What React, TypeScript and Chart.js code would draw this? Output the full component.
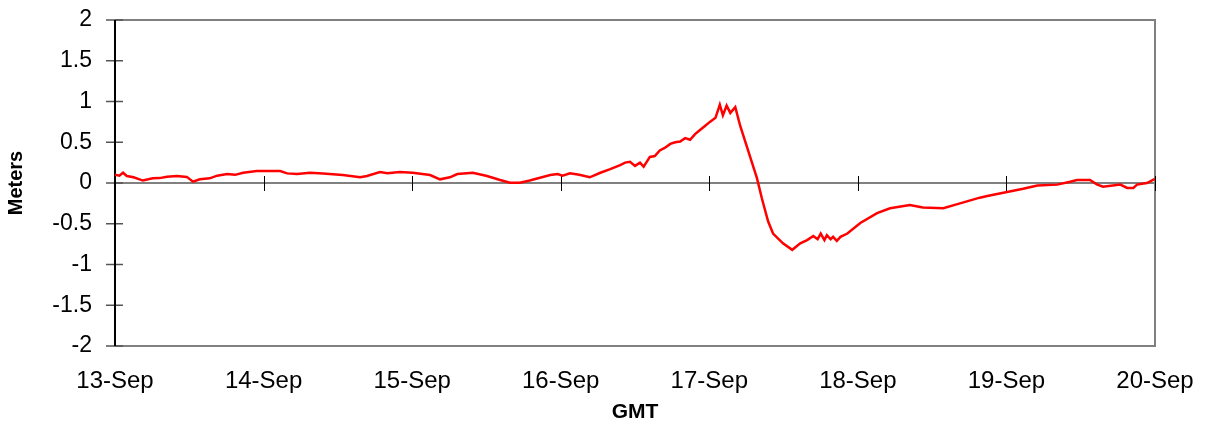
import React, { useEffect, useRef } from "react";
import { Chart, registerables } from "chart.js";

Chart.register(...registerables);

// Hours since 13-Sep 00:00 GMT
const hours = [
  0, 0.7, 1.3, 1.9, 3.0, 4.5, 6.1, 7.2, 8.4, 10.0, 11.6, 12.6, 13.7, 15.3, 16.5, 18.1, 19.4, 20.7,
  22.9, 26.7, 27.8, 29.4, 31.5, 33.6, 36.8, 39.6, 40.7, 42.8, 44.0, 46.0, 48.1, 50.9, 52.5, 54.1,
  55.3, 57.8, 60.1, 62.2, 63.8, 65.4, 67.0, 70.3, 71.5, 72.3, 73.5, 75.0, 76.7, 78.4, 80.0, 81.6,
  82.4, 83.2, 84.0, 84.8, 85.4, 86.4, 87.2, 88.0, 88.8, 89.7, 90.5, 91.3, 92.1, 92.9, 93.7, 94.5,
  95.3, 96.1, 97.0, 97.7, 98.2, 98.8, 99.4, 100.2, 101.0, 101.8, 102.6, 103.7, 104.5, 105.5,
  106.3, 107.9, 109.4, 110.7, 111.8, 112.8, 113.5, 114.0, 114.6, 115.0, 115.6, 116.0, 116.6,
  117.2, 118.3, 120.4, 123.1, 125.2, 128.4, 130.5, 133.8, 136.5, 139.7, 140.9, 144.1, 146.7,
  149.0, 152.2, 154.3, 155.4, 157.5, 158.6, 159.6, 162.4, 163.5, 164.5, 165.1, 166.7, 168,
];

// Water level anomaly (meters)
const level = [
  0.10, 0.09, 0.126, 0.086, 0.07, 0.03, 0.057, 0.06, 0.077, 0.086, 0.075, 0.016, 0.045, 0.057,
  0.09, 0.11, 0.10, 0.126, 0.147, 0.147, 0.118, 0.11, 0.126, 0.118, 0.098, 0.07, 0.086, 0.135,
  0.12, 0.135, 0.126, 0.098, 0.045, 0.07, 0.11, 0.126, 0.086, 0.037, 0.004, 0.004, 0.03, 0.098,
  0.11, 0.09, 0.119, 0.10, 0.07, 0.126, 0.17, 0.22, 0.25, 0.26, 0.21, 0.25, 0.2, 0.32, 0.33,
  0.40, 0.43, 0.48, 0.50, 0.51, 0.55, 0.53, 0.60, 0.65, 0.70, 0.75, 0.80, 0.96, 0.83, 0.95, 0.86,
  0.93, 0.70, 0.51, 0.32, 0.06, -0.19, -0.47, -0.62, -0.74, -0.82, -0.74, -0.70, -0.65, -0.69,
  -0.62, -0.70, -0.64, -0.69, -0.66, -0.71, -0.66, -0.62, -0.49, -0.37, -0.31, -0.27, -0.30,
  -0.31, -0.25, -0.18, -0.16, -0.11, -0.07, -0.03, -0.02, 0.016, 0.037, 0.037, -0.016, -0.045,
  -0.02, -0.06, -0.06, -0.02, 0.0, 0.05,
];

const dayLabels = ["13-Sep", "14-Sep", "15-Sep", "16-Sep", "17-Sep", "18-Sep", "19-Sep", "20-Sep"];
const yTicks = [2, 1.5, 1, 0.5, 0, -0.5, -1, -1.5, -2];

const FONT = "'Liberation Sans', Arial, sans-serif";

const framePlugin = {
  id: "frame",
  beforeDatasetsDraw(chart: any) {
    const { ctx, chartArea: a, scales } = chart;
    const xs = scales.x;
    const ys = scales.y;
    ctx.save();
    ctx.strokeStyle = "#808080";
    ctx.lineWidth = 2;
    ctx.beginPath();
    ctx.moveTo(a.left, a.top);
    ctx.lineTo(a.right, a.top);
    ctx.lineTo(a.right, a.bottom);
    ctx.lineTo(a.left, a.bottom);
    ctx.stroke();
    const y0 = ys.getPixelForValue(0);
    ctx.beginPath();
    ctx.moveTo(a.left, y0);
    ctx.lineTo(a.right, y0);
    ctx.stroke();
    ctx.strokeStyle = "#555555";
    ctx.lineWidth = 1.5;
    for (const v of yTicks) {
      const py = ys.getPixelForValue(v);
      ctx.beginPath();
      ctx.moveTo(a.left - 9, py);
      ctx.lineTo(a.left + 8, py);
      ctx.stroke();
    }
    ctx.strokeStyle = "#000000";
    ctx.lineWidth = 1;
    for (let i = 1; i < dayLabels.length; i++) {
      const px = Math.round(xs.getPixelForValue(i * 24)) + 0.5;
      ctx.beginPath();
      ctx.moveTo(px, y0 - 7);
      ctx.lineTo(px, y0 + 8);
      ctx.stroke();
    }
    ctx.strokeStyle = "#000000";
    ctx.lineWidth = 2;
    ctx.beginPath();
    ctx.moveTo(a.left, a.top);
    ctx.lineTo(a.left, a.bottom);
    ctx.stroke();
    ctx.restore();
  },
};

export default function App() {
  const ref = useRef<HTMLCanvasElement | null>(null);
  useEffect(() => {
    document.body.style.margin = "0";
    const canvas = ref.current;
    if (!canvas) return;
    const data = hours.map((h, i) => ({ x: h, y: level[i] }));
    const chart = new Chart(canvas, {
      type: "line",
      data: {
        datasets: [
          {
            data,
            borderColor: "#ff0000",
            borderWidth: 2.5,
            pointRadius: 0,
            tension: 0,
            fill: false,
          },
        ],
      },
      plugins: [framePlugin],
      options: {
        animation: false,
        responsive: false,
        events: [],
        layout: { padding: { top: 20, right: 57, bottom: 0, left: 0 } },
        plugins: { legend: { display: false }, tooltip: { enabled: false } },
        scales: {
          x: {
            type: "linear",
            min: 0,
            max: 168,
            afterFit: (s: any) => {
              s.height = 85;
              s.paddingLeft = 0;
              s.paddingRight = 0;
            },
            afterBuildTicks: (s: any) => {
              s.ticks = dayLabels.map((_, i) => ({ value: i * 24 }));
            },
            ticks: {
              autoSkip: false,
              maxRotation: 0,
              padding: 21,
              color: "#000",
              font: { family: FONT, size: 24 },
              callback: (v: any) => dayLabels[Math.round(Number(v) / 24)],
            },
            grid: { display: false, drawTicks: false },
            border: { display: false },
            title: {
              display: true,
              text: "GMT",
              color: "#000",
              font: { family: FONT, size: 21, weight: "bold" },
              padding: { top: 0, bottom: 6 },
            },
          },
          y: {
            min: -2,
            max: 2,
            afterFit: (s: any) => {
              s.width = 115;
              s.paddingTop = 0;
              s.paddingBottom = 0;
            },
            afterBuildTicks: (s: any) => {
              s.ticks = yTicks.map((v) => ({ value: v }));
            },
            ticks: {
              padding: 23,
              color: "#000",
              font: { family: FONT, size: 23 },
              callback: (v: any) => String(v),
            },
            grid: { display: false, drawTicks: false },
            border: { display: false },
            title: {
              display: true,
              text: "Meters",
              color: "#000",
              font: { family: FONT, size: 20, weight: "bold" },
              padding: { top: 4, bottom: 0 },
            },
          },
        },
      },
    });
    return () => chart.destroy();
  }, []);
  return (
    <div style={{ width: 1212, height: 431 }}>
      <canvas ref={ref} width={1212} height={431} style={{ display: "block" }} />
    </div>
  );
}
